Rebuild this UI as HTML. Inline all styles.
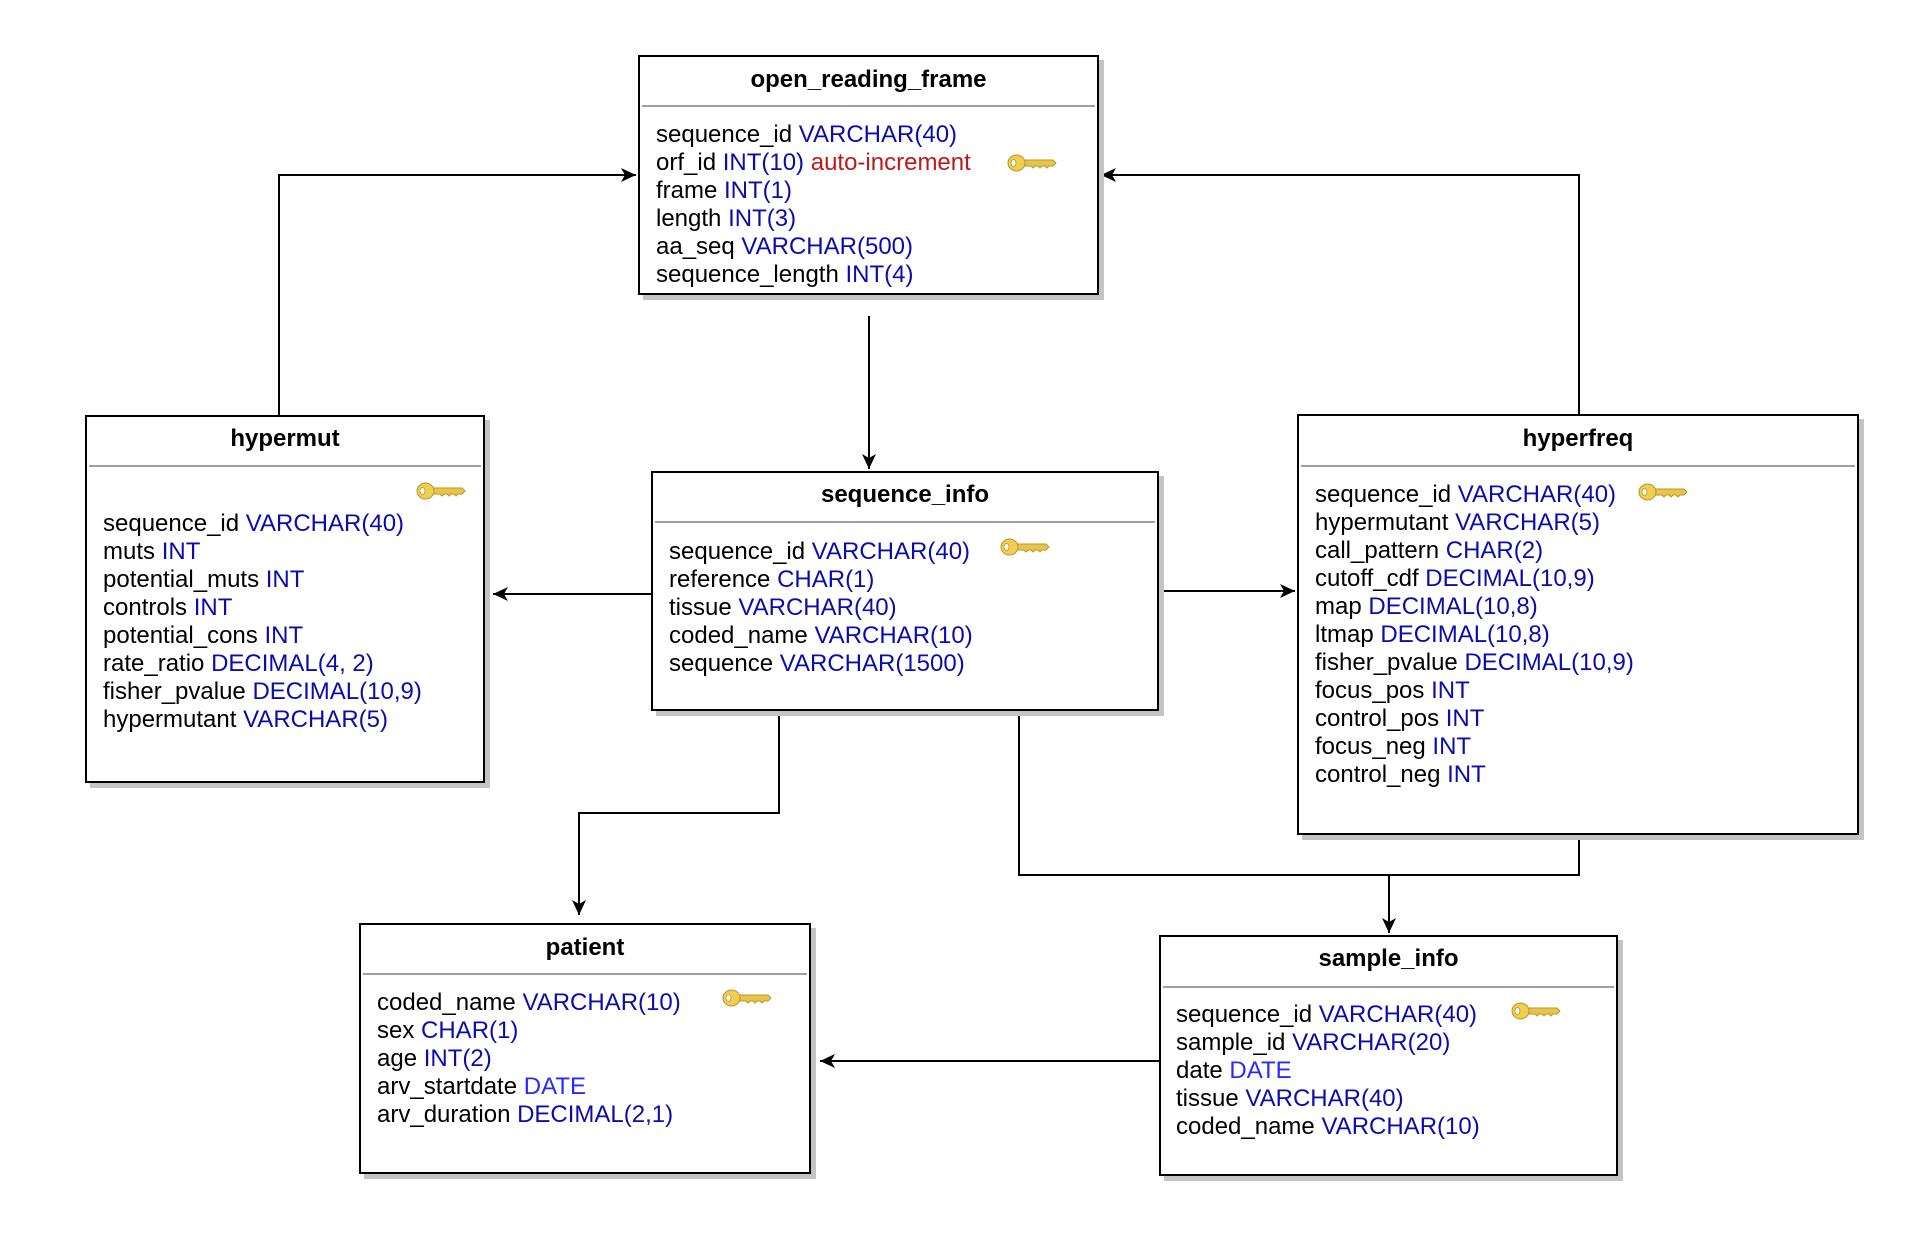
<!DOCTYPE html>
<html><head><meta charset="utf-8"><style>
body{margin:0;width:1906px;height:1234px;background:#fff;position:relative;overflow:hidden;font-family:"Liberation Sans",Arial,sans-serif;}
.box{position:absolute;border:2px solid #000;background:#fff;box-shadow:5px 5px 0 #c4c4c4;box-sizing:border-box;}
.title{position:absolute;left:0;right:0;text-align:center;font-weight:bold;font-size:24px;line-height:28px;color:#000;}
.sep{position:absolute;left:2px;right:2px;height:2px;background:#a0a0a0;}
.rows{position:absolute;font-size:24px;line-height:28px;color:#000;white-space:nowrap;}
.t{color:#0c0cae;}
.d{color:#2a2aff;}
.r{color:#c01818;}
.key{position:absolute;}
svg.c{position:absolute;left:0;top:0;}
</style></head><body>

<svg class="c" width="1906" height="1234" viewBox="0 0 1906 1234">
<defs>
<marker id="a" markerWidth="16" markerHeight="14" refX="15" refY="7" orient="auto" markerUnits="userSpaceOnUse">
<path d="M0,0 L15,7 L0,14 L4,7 Z" fill="#000"/>
</marker>
</defs>
<g fill="none" stroke="#000" stroke-width="2">
<path d="M279,415 V175 H636" marker-end="url(#a)"/>
<path d="M1579,414 V175 H1101" marker-end="url(#a)"/>
<path d="M869,316 V469" marker-end="url(#a)"/>
<path d="M651,594 H493" marker-end="url(#a)"/>
<path d="M1159,591 H1295" marker-end="url(#a)"/>
<path d="M779,711 V813 H579 V915" marker-end="url(#a)"/>
<path d="M1019,711 V875 H1579 V834"/>
<path d="M1389,875 V933" marker-end="url(#a)"/>
<path d="M1159,1061 H820" marker-end="url(#a)"/>
</g>
</svg>

<div class="box" style="left:638px;top:55px;width:461px;height:240px;">
<div class="title" style="top:9px;">open_reading_frame</div>
<div class="sep" style="top:48px;"></div>
<div class="rows" style="left:16px;top:64px;">
sequence_id <span class="t">VARCHAR(40)</span><br>
orf_id <span class="t">INT(10)</span> <span class="r">auto-increment</span><br>
frame <span class="t">INT(1)</span><br>
length <span class="t">INT(3)</span><br>
aa_seq <span class="t">VARCHAR(500)</span><br>
sequence_length <span class="t">INT(4)</span>
</div>
</div>

<div class="box" style="left:85px;top:415px;width:400px;height:368px;">
<div class="title" style="top:8px;">hypermut</div>
<div class="sep" style="top:48px;"></div>
<div class="rows" style="left:16px;top:93px;">
sequence_id <span class="t">VARCHAR(40)</span><br>
muts <span class="t">INT</span><br>
potential_muts <span class="t">INT</span><br>
controls <span class="t">INT</span><br>
potential_cons <span class="t">INT</span><br>
rate_ratio <span class="t">DECIMAL(4, 2)</span><br>
fisher_pvalue <span class="t">DECIMAL(10,9)</span><br>
hypermutant <span class="t">VARCHAR(5)</span>
</div>
</div>

<div class="box" style="left:651px;top:471px;width:508px;height:240px;">
<div class="title" style="top:8px;">sequence_info</div>
<div class="sep" style="top:48px;"></div>
<div class="rows" style="left:16px;top:65px;">
sequence_id <span class="t">VARCHAR(40)</span><br>
reference <span class="t">CHAR(1)</span><br>
tissue <span class="t">VARCHAR(40)</span><br>
coded_name <span class="t">VARCHAR(10)</span><br>
sequence <span class="t">VARCHAR(1500)</span>
</div>
</div>

<div class="box" style="left:1297px;top:414px;width:562px;height:421px;">
<div class="title" style="top:9px;">hyperfreq</div>
<div class="sep" style="top:49px;"></div>
<div class="rows" style="left:16px;top:65px;">
sequence_id <span class="t">VARCHAR(40)</span><br>
hypermutant <span class="t">VARCHAR(5)</span><br>
call_pattern <span class="t">CHAR(2)</span><br>
cutoff_cdf <span class="t">DECIMAL(10,9)</span><br>
map <span class="t">DECIMAL(10,8)</span><br>
ltmap <span class="t">DECIMAL(10,8)</span><br>
fisher_pvalue <span class="t">DECIMAL(10,9)</span><br>
focus_pos <span class="t">INT</span><br>
control_pos <span class="t">INT</span><br>
focus_neg <span class="t">INT</span><br>
control_neg <span class="t">INT</span>
</div>
</div>

<div class="box" style="left:359px;top:923px;width:452px;height:251px;">
<div class="title" style="top:9px;">patient</div>
<div class="sep" style="top:48px;"></div>
<div class="rows" style="left:16px;top:64px;">
coded_name <span class="t">VARCHAR(10)</span><br>
sex <span class="t">CHAR(1)</span><br>
age <span class="t">INT(2)</span><br>
arv_startdate <span class="d">DATE</span><br>
arv_duration <span class="t">DECIMAL(2,1)</span>
</div>
</div>

<div class="box" style="left:1159px;top:935px;width:459px;height:241px;">
<div class="title" style="top:8px;">sample_info</div>
<div class="sep" style="top:49px;"></div>
<div class="rows" style="left:15px;top:64px;">
sequence_id <span class="t">VARCHAR(40)</span><br>
sample_id <span class="t">VARCHAR(20)</span><br>
date <span class="d">DATE</span><br>
tissue <span class="t">VARCHAR(40)</span><br>
coded_name <span class="t">VARCHAR(10)</span>
</div>
</div>

<svg width="0" height="0" style="position:absolute">
<defs>
<g id="k">
<path d="M16,6 H46 L49,9 L46,12 H42 L40,14 L38,12 H35 L33,14 L31,12 H28 L26,14 L24,12 H16 Z" fill="#e8c54a" stroke="#b8962a" stroke-width="1"/>
<ellipse cx="9.5" cy="9" rx="8.5" ry="8" fill="#f0cf50" stroke="#b8962a" stroke-width="1"/>
<ellipse cx="6.5" cy="9" rx="2.5" ry="3.5" fill="#fff" stroke="#b8962a" stroke-width="0.8"/>
</g>
</defs>
</svg>
<svg class="key" style="left:1007px;top:154px" width="50" height="18"><use href="#k"/></svg>
<svg class="key" style="left:416px;top:482px" width="50" height="18"><use href="#k"/></svg>
<svg class="key" style="left:1000px;top:538px" width="50" height="18"><use href="#k"/></svg>
<svg class="key" style="left:1638px;top:483px" width="50" height="18"><use href="#k"/></svg>
<svg class="key" style="left:722px;top:989px" width="50" height="18"><use href="#k"/></svg>
<svg class="key" style="left:1511px;top:1002px" width="50" height="18"><use href="#k"/></svg>

</body></html>
